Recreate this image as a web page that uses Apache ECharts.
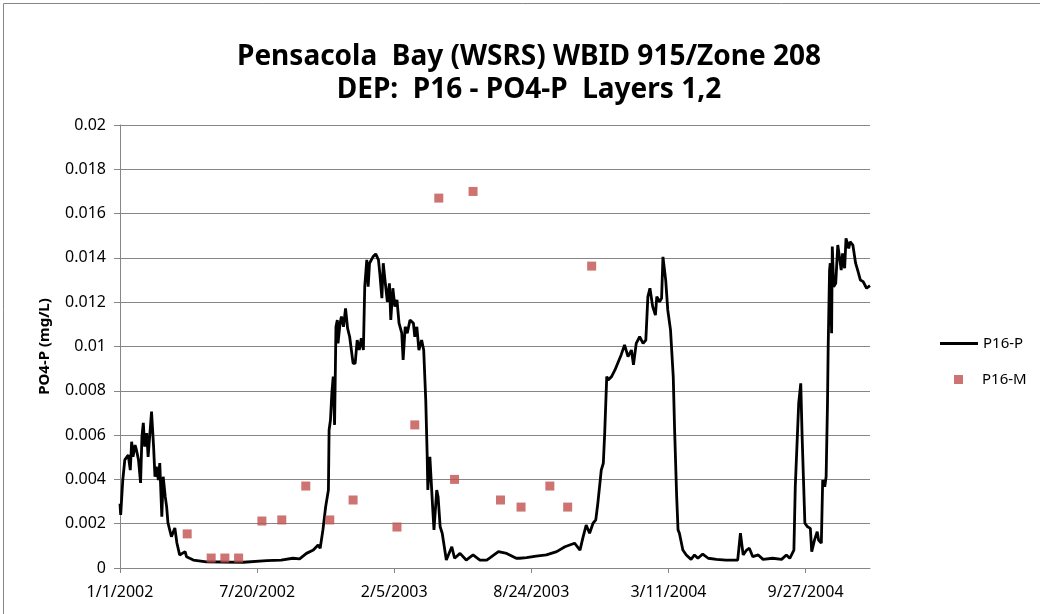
<!DOCTYPE html>
<html style="height: 100%">
<head>
  <meta charset="utf-8">
</head>
<body style="height: 100%; margin: 0">
  <div id="container" style="width: 1040px; height: 614px"></div>

  <script type="text/javascript" src="https://cdn.jsdelivr.net/npm/echarts@6/dist/echarts.min.js"></script>
  <script type="text/javascript">
    var dom = document.getElementById('container');
    var myChart = echarts.init(dom, null, { renderer: 'canvas' });

// x values are days counted from 1/1/2002
var startDate = Date.UTC(2002, 0, 1);
var xTickDays = [0, 200, 400, 600, 800, 1000];
var yTicks = [0, 0.002, 0.004, 0.006, 0.008, 0.01, 0.012, 0.014, 0.016, 0.018, 0.02];

// P16-P model line
var p16pDays = [
  0, 1, 4, 7, 12, 15, 17, 19, 22, 24, 27, 30, 32, 34, 36, 39, 41, 44, 46, 49,
  51, 53, 56, 58, 61, 63, 66, 68, 70, 75, 80, 83, 87, 95, 97, 107, 126, 150, 180, 214,
  235, 252, 262, 272, 282, 289, 292, 296, 300, 304, 305, 307, 309, 311, 313, 315, 317, 318, 321, 323,
  326, 329, 332, 335, 340, 343, 346, 349, 352, 355, 357, 360, 362, 364, 369, 373, 377, 379, 382, 384,
  386, 390, 393, 395, 398, 401, 404, 407, 411, 413, 416, 419, 423, 428, 430, 433, 436, 440, 443, 446,
  448, 449, 452, 456, 458, 462, 464, 467, 470, 476, 484, 488, 496, 505, 515, 525, 535, 552, 564, 578,
  583, 593, 607, 622, 637, 649, 663, 671, 675, 680, 685, 690, 694, 697, 702, 705, 707, 710, 712, 717,
  722, 726, 731, 736, 741, 746, 749, 753, 758, 763, 767, 770, 773, 777, 781, 783, 787, 790, 792, 796,
  799, 803, 807, 809, 812, 814, 816, 819, 821, 826, 833, 838, 843, 850, 858, 870, 884, 901, 905, 909,
  914, 918, 923, 931, 938, 952, 965, 972, 977, 983, 985, 988, 990, 993, 995, 997, 999, 1003, 1007, 1009,
  1013, 1017, 1019, 1023, 1025, 1028, 1030, 1032, 1033, 1035, 1036, 1038, 1039, 1041, 1044, 1047, 1050, 1052, 1054, 1057,
  1059, 1063, 1065, 1069, 1073, 1076, 1080, 1084, 1089, 1094
];
var p16pValues = [
  0.0029, 0.0024, 0.00395, 0.00488, 0.0051, 0.00442, 0.0057, 0.00502, 0.00555, 0.00533, 0.00488, 0.00384, 0.00593, 0.00655, 0.00548, 0.00609, 0.00502, 0.00623, 0.00706, 0.00548,
  0.00412, 0.00457, 0.00397, 0.00474, 0.00232, 0.00412, 0.00322, 0.00277, 0.00203, 0.00141, 0.00181, 0.00113, 0.00059, 0.00074, 0.00051, 0.00036, 0.00028, 0.00027, 0.00026, 0.00033,
  0.00036, 0.00044, 0.00041, 0.00066, 0.00081, 0.00104, 0.00089, 0.00172, 0.00277, 0.00352, 0.00623, 0.00668, 0.00789, 0.00864, 0.00646, 0.01089, 0.0112, 0.01014, 0.01105, 0.01135,
  0.01089, 0.01172, 0.01082, 0.01044, 0.00924, 0.00924, 0.01029, 0.00984, 0.01037, 0.00984, 0.0127, 0.01391, 0.0127, 0.01376, 0.01405, 0.01418, 0.01391, 0.0133, 0.01218, 0.01376,
  0.01315, 0.01202, 0.01285, 0.0112, 0.01263, 0.0118, 0.0121, 0.01105, 0.0106, 0.00939, 0.01089, 0.0106, 0.0112, 0.01105, 0.01044, 0.01089, 0.00984, 0.01029, 0.00984, 0.00758,
  0.00518, 0.00352, 0.00502, 0.00277, 0.00172, 0.00352, 0.00322, 0.00186, 0.00157, 0.00036, 0.00096, 0.00044, 0.00066, 0.00036, 0.00059, 0.00036, 0.00036, 0.00074, 0.00066, 0.00044,
  0.00044, 0.00047, 0.00054, 0.00059, 0.00074, 0.00096, 0.00112, 0.00081, 0.00134, 0.00194, 0.00157, 0.00202, 0.00217, 0.00292, 0.00442, 0.00473, 0.00608, 0.00864, 0.00849, 0.00864,
  0.00894, 0.00924, 0.00962, 0.01007, 0.00954, 0.00984, 0.00917, 0.01014, 0.01044, 0.01014, 0.01029, 0.01225, 0.01263, 0.0118, 0.01142, 0.01225, 0.01202, 0.01218, 0.01405, 0.013,
  0.01165, 0.01075, 0.00864, 0.00623, 0.00322, 0.00172, 0.00157, 0.00112, 0.00081, 0.00059, 0.00039, 0.00059, 0.00044, 0.00063, 0.00044, 0.00039, 0.00036, 0.00036, 0.00157, 0.00059,
  0.00081, 0.00089, 0.00051, 0.00059, 0.00039, 0.00044, 0.00039, 0.00059, 0.00044, 0.00081, 0.00367, 0.00593, 0.00744, 0.00834, 0.00593, 0.00397, 0.00202, 0.00186, 0.00179, 0.00074,
  0.00126, 0.00164, 0.00126, 0.00112, 0.00397, 0.00367, 0.00412, 0.00744, 0.00999, 0.01345, 0.01376, 0.0106, 0.01451, 0.0127, 0.01285, 0.01458, 0.01391, 0.01345, 0.01421, 0.01353,
  0.01488, 0.01443, 0.01473, 0.01458, 0.01376, 0.01345, 0.013, 0.01293, 0.01263, 0.01275
];

// P16-M measured points
var p16mDays = [98, 133, 153, 173, 207, 236, 271, 306, 340, 404, 430, 465, 488, 515, 555, 585, 627, 653, 688];
var p16mValues = [0.00154, 0.00045, 0.00045, 0.00045, 0.00212, 0.00217, 0.0037, 0.00217, 0.00307, 0.00185, 0.00646, 0.0167, 0.0040, 0.0170, 0.00307, 0.00275, 0.0037, 0.00275, 0.01363];

function pairs(xs, ys) {
  return xs.map(function (x, i) { return [x, ys[i]]; });
}

function dayLabel(d) {
  var dt = new Date(startDate + d * 86400000);
  return (dt.getUTCMonth() + 1) + '/' + dt.getUTCDate() + '/' + dt.getUTCFullYear();
}

var font = 'Noto Sans';
var gridColor = '#868686';

var option = {
    backgroundColor: '#ffffff',
    animation: false,
    textStyle: { fontFamily: font },
    title: {
        text: 'Pensacola  Bay (WSRS) WBID 915/Zone 208\nDEP:  P16 - PO4-P  Layers 1,2',
        left: 524,
        top: 36,
        textAlign: 'center',
        textStyle: {
            fontFamily: font,
            fontSize: 28,
            fontWeight: 'bold',
            color: '#000',
            lineHeight: 33,
        },
    },
    graphic: [
        {
            type: 'rect',
            shape: { x: 3.5, y: 3.5, width: 1100, height: 700 },
            style: { fill: 'none', stroke: gridColor, lineWidth: 1 },
            silent: true,
        },
    ],
    grid: {
        left: 120,
        right: 170,
        top: 125,
        bottom: 46,
    },
    legend: [
        {
            data: ['P16-P'],
            left: 935,
            top: 331,
            icon: 'rect',
            itemWidth: 38,
            itemHeight: 3,
            textStyle: { fontFamily: font, fontSize: 15, color: '#000' },
        },
        {
            data: ['P16-M'],
            left: 949,
            top: 367,
            itemWidth: 9,
            itemHeight: 9,
            icon: 'rect',
            textStyle: { fontFamily: font, fontSize: 15, color: '#000', padding: [0, 0, 0, 14] },
        },
    ],
    xAxis: {
        type: 'value',
        min: 0,
        max: 1094,
        interval: 200,
        axisLine: { lineStyle: { color: gridColor } },
        axisTick: {
            show: true,
            length: 5,
            customValues: xTickDays,
            lineStyle: { color: gridColor },
        },
        axisLabel: {
            customValues: xTickDays,
            formatter: dayLabel,
            margin: 16,
            fontFamily: font,
            fontSize: 16,
            color: '#000',
        },
        splitLine: { show: false },
    },
    yAxis: {
        type: 'value',
        min: 0,
        max: 0.02,
        interval: 0.002,
        name: 'PO4-P (mg/L)',
        nameLocation: 'middle',
        nameGap: 68,
        nameTextStyle: { fontFamily: font, fontSize: 15, fontWeight: 'bold', color: '#000' },
        axisLine: { show: true, lineStyle: { color: gridColor } },
        axisTick: { show: true, length: 6, inside: false, lineStyle: { color: gridColor } },
        axisLabel: {
            customValues: yTicks,
            formatter: function (v) { return String(+v.toFixed(4)); },
            margin: 14,
            fontFamily: font,
            fontSize: 16,
            color: '#000',
        },
        splitLine: { show: true, lineStyle: { color: gridColor, width: 1 } },
    },
    series: [
        {
            name: 'P16-P',
            type: 'line',
            symbol: 'none',
            lineStyle: { color: '#000', width: 2.8 },
            itemStyle: { color: '#000' },
            data: pairs(p16pDays, p16pValues),
            z: 3,
        },
        {
            name: 'P16-M',
            type: 'scatter',
            symbol: 'rect',
            symbolSize: 9,
            itemStyle: { color: '#C0504D' },
            data: pairs(p16mDays, p16mValues),
            z: 4,
        },
    ],
};

    if (option && typeof option === 'object') {
      myChart.setOption(option);
    }

    window.addEventListener('resize', myChart.resize);
  </script>
</body>
</html>
